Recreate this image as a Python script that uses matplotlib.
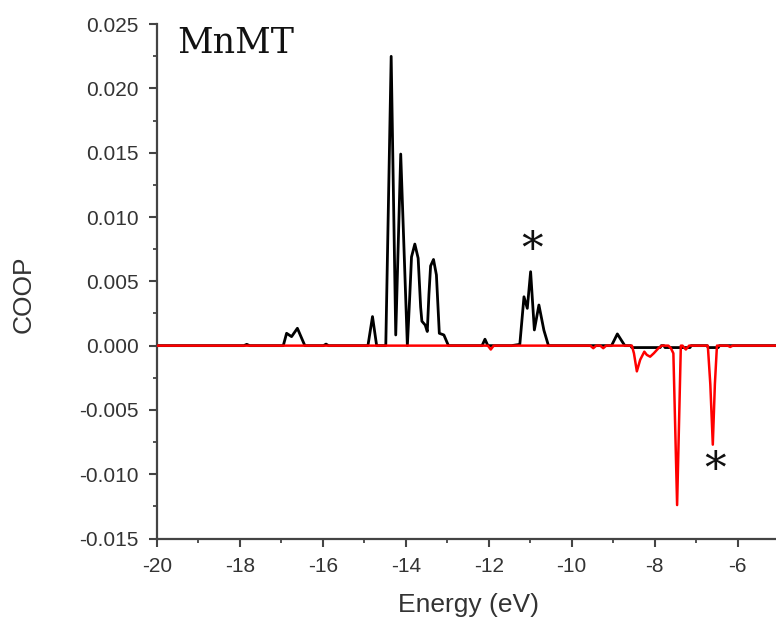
import matplotlib
matplotlib.use("Agg")
import matplotlib.pyplot as plt
from matplotlib.ticker import MultipleLocator, FormatStrFormatter

# ---- data ----
black_energy = [-20.0, -17.90, -17.83, -17.76, -16.95, -16.87, -16.75, -16.61, -16.43,
                -15.98, -15.92, -15.86, -14.91, -14.80, -14.70, -14.48, -14.35, -14.24,
                -14.12, -13.96, -13.90, -13.86, -13.78, -13.70, -13.64, -13.61, -13.53,
                -13.48, -13.44, -13.40, -13.33, -13.26, -13.19, -13.08, -12.97, -12.16,
                -12.09, -12.02, -11.45, -11.25, -11.15, -11.07, -10.99, -10.90, -10.79,
                -10.67, -10.56, -9.04, -8.90, -8.80, -8.72, -8.58, -8.55, -7.87, -7.84,
                -7.78, -7.75, -7.15, -7.12, -6.74, -6.71, -6.47, -6.44, -5.0]
black_coop = [0, 0, 0.0001, 0, 0, 0.00096, 0.0007, 0.00135, 0,
              0, 0.00012, 0, 0, 0.00226, 0, 0, 0.0225, 0.00083,
              0.0149, 0, 0.0040, 0.0069, 0.0079, 0.0068, 0.0030, 0.0019, 0.0016,
              0.0011, 0.0040, 0.0062, 0.0067, 0.0055, 0.00096, 0.00083, 0, 0,
              0.0005, 0, 0, 0.0001, 0.0038, 0.0029, 0.00575, 0.00122, 0.00316,
              0.0012, 0, 0, 0.00091, 0.0004, 0, 0, -0.00015, -0.00015, 0,
              0, -0.00015, -0.00015, 0, 0, -0.00015, -0.00015, 0, 0]

red_energy = [-20.0, -12.02, -11.95, -11.88, -9.55, -9.48, -9.41, -9.31, -9.24, -9.17,
              -8.55, -8.50, -8.43, -8.35, -8.25, -8.19, -8.11, -8.02, -7.91, -7.83,
              -7.67, -7.61, -7.55, -7.46, -7.37, -7.33, -7.25, -7.17,
              -6.72, -6.66, -6.60, -6.55, -6.50, -6.24, -6.18, -6.12, -5.0]
red_coop = [0, 0, -0.0003, 0, 0, -0.0002, 0, 0, -0.0002, 0,
            0, -0.0006, -0.0020, -0.0011, -0.00047, -0.00072, -0.00086, -0.00059, -0.0002, 0,
            0, -0.0002, -0.0006, -0.0124, 0, 0, -0.0003, 0,
            0, -0.0030, -0.0077, -0.0030, 0, 0, -0.0001, 0, 0]

x_ticks = [-20, -18, -16, -14, -12, -10, -8, -6]
y_ticks = [-0.015, -0.010, -0.005, 0.000, 0.005, 0.010, 0.015, 0.020, 0.025]
star_energy = [-10.95, -6.55]
star_coop = [0.0074, -0.0097]
label_text = "MnMT"
x_label = "Energy (eV)"
y_label = "COOP"

assert len(black_energy) == len(black_coop)
assert len(red_energy) == len(red_coop)

plt.rcParams['axes.unicode_minus'] = False
plt.rcParams['font.family'] = ['Liberation Sans', 'DejaVu Sans']

W, H = 776, 624
fig = plt.figure(figsize=(W / 100, H / 100), dpi=100)
left_px, right_px, top_px, bottom_px = 156.7, 776, 24.2, 538.5
ax = fig.add_axes([left_px / W, 1 - bottom_px / H, (right_px - left_px) / W,
                   (bottom_px - top_px) / H])

ax.plot(black_energy, black_coop, color='black', lw=2.0, solid_joinstyle='round', zorder=2)
ax.plot(red_energy, red_coop, color='#ff0000', lw=1.8, solid_joinstyle='round', zorder=3)

for xe, yc in zip(star_energy, star_coop):
    ax.text(xe, yc, '*', fontsize=31, family='DejaVu Serif', ha='center', va='center',
            color='#111111')

ax.set_xlim(-20, -20 + (right_px - left_px) / 41.5)
ax.set_ylim(-0.015, 0.025)
ax.set_xticks(x_ticks)
ax.set_yticks(y_ticks)
ax.xaxis.set_minor_locator(MultipleLocator(1))
ax.yaxis.set_minor_locator(MultipleLocator(0.0025))
ax.yaxis.set_major_formatter(FormatStrFormatter('%.3f'))
ax.xaxis.set_major_formatter(FormatStrFormatter('%d'))

for s in ['top', 'right']:
    ax.spines[s].set_visible(False)
for s in ['left', 'bottom']:
    ax.spines[s].set_linewidth(1.6)
    ax.spines[s].set_color('#444444')

ax.tick_params(which='major', direction='out', length=6, width=1.5, color='#444444',
               labelsize=15, labelcolor='#333333')
ax.tick_params(which='minor', direction='out', length=3.2, width=1.3, color='#444444')
ax.tick_params(axis='y', which='major', pad=7)
ax.tick_params(axis='x', which='major', pad=7)

fig.text(469 / W, 1 - 605 / H, x_label, fontsize=19, ha='center', va='center', color='#333333')
fig.text(24 / W, 1 - 294 / H, y_label, fontsize=19, rotation=90, ha='center', va='center',
         color='#333333')
fig.text(177 / W, 1 - 52.7 / H, label_text, fontsize=25, family='DejaVu Serif',
         ha='left', va='baseline', color='#111111')

fig.savefig('out.png', dpi=100)
